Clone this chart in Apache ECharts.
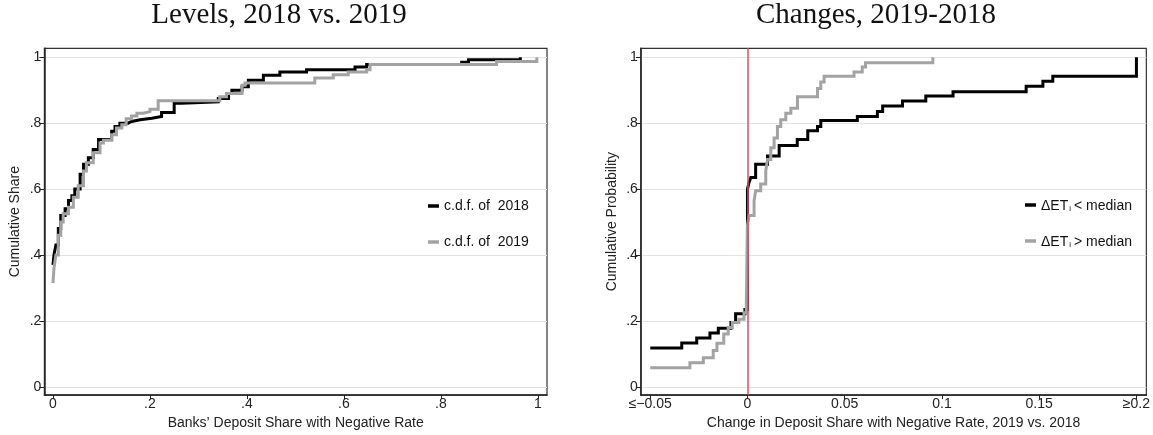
<!DOCTYPE html>
<html>
<head>
<meta charset="utf-8">
<script src="https://cdn.jsdelivr.net/npm/echarts@6/dist/echarts.min.js"></script>
<style>
  html, body { margin: 0; padding: 0; background: #fff; }
  #chart { width: 1153px; height: 435px; }
</style>
</head>
<body>
<div id="chart"></div>
<script>
// left panel: c.d.f. of deposit share with negative rate
var x2018 = [0, 0.002, 0.006, 0.011, 0.016, 0.025, 0.032, 0.039, 0.045, 0.056, 0.063, 0.073, 0.083, 0.094, 0.121, 0.128, 0.138, 0.155, 0.162, 0.18, 0.204, 0.224, 0.25, 0.265, 0.341, 0.362, 0.369, 0.39, 0.403, 0.434, 0.468, 0.523, 0.623, 0.647, 0.843, 0.857, 0.964]
var cdf2018 = [0.37, 0.40, 0.43, 0.48, 0.52, 0.54, 0.565, 0.58, 0.60, 0.645, 0.675, 0.695, 0.72, 0.75, 0.775, 0.79, 0.80, 0.805, 0.81, 0.815, 0.82, 0.832, 0.86, 0.865, 0.875, 0.89, 0.90, 0.91, 0.93, 0.945, 0.955, 0.962, 0.97, 0.978, 0.985, 0.992, 1.0]
var x2019 = [0, 0.002, 0.006, 0.011, 0.016, 0.021, 0.032, 0.042, 0.052, 0.063, 0.069, 0.083, 0.097, 0.104, 0.121, 0.131, 0.142, 0.151, 0.162, 0.173, 0.186, 0.2, 0.217, 0.344, 0.358, 0.39, 0.396, 0.54, 0.578, 0.609, 0.647, 0.654, 0.915, 0.998]
var cdf2019 = [0.315, 0.36, 0.40, 0.46, 0.50, 0.525, 0.545, 0.575, 0.61, 0.655, 0.68, 0.71, 0.74, 0.748, 0.765, 0.785, 0.795, 0.813, 0.822, 0.83, 0.835, 0.842, 0.868, 0.88, 0.89, 0.915, 0.922, 0.937, 0.947, 0.955, 0.962, 0.978, 0.987, 1.0]

// right panel: change 2019 vs 2018, split by median
var xBelow = [-0.05, -0.0338, -0.0261, -0.0193, -0.015, -0.0085, -0.0061, -0.0013, 0, 0.0008, 0.0017, 0.0042, 0.0103, 0.0163, 0.0256, 0.031, 0.036, 0.0377, 0.0565, 0.0668, 0.0695, 0.0797, 0.0917, 0.1057, 0.1433, 0.1519, 0.157, 0.2]
var cdfBelow = [0.118, 0.133, 0.148, 0.163, 0.178, 0.195, 0.222, 0.235, 0.60, 0.62, 0.635, 0.675, 0.70, 0.732, 0.75, 0.777, 0.79, 0.808, 0.82, 0.835, 0.852, 0.867, 0.882, 0.895, 0.912, 0.927, 0.942, 1.0]
var xAbove = [-0.05, -0.0296, -0.0227, -0.0176, -0.0157, -0.0122, -0.0099, -0.0078, -0.0044, -0.0018, -0.0006, 0, 0.0008, 0.0034, 0.0042, 0.0068, 0.0094, 0.0103, 0.012, 0.0137, 0.0154, 0.0171, 0.0197, 0.0223, 0.0257, 0.036, 0.0377, 0.0394, 0.0548, 0.059, 0.0607, 0.0953]
var cdfAbove = [0.058, 0.073, 0.088, 0.11, 0.132, 0.16, 0.18, 0.195, 0.205, 0.225, 0.25, 0.49, 0.52, 0.565, 0.595, 0.615, 0.655, 0.69, 0.725, 0.755, 0.79, 0.81, 0.83, 0.845, 0.88, 0.905, 0.925, 0.942, 0.955, 0.97, 0.983, 1.0]

var yTicks = [0, 0.2, 0.4, 0.6, 0.8, 1]
var yTickLabels = ['0', '.2', '.4', '.6', '.8', '1']
var xTicksLeft = [0, 0.2, 0.4, 0.6, 0.8, 1]
var xTickLabelsLeft = ['0', '.2', '.4', '.6', '.8', '1']
var xTicksRight = [-0.05, 0, 0.05, 0.1, 0.15, 0.2]
var xTickLabelsRight = ['≤−0.05', '0', '0.05', '0.1', '0.15', '≥0.2']

var sans = 'Liberation Sans, Arial, sans-serif'
var fs = 14
var black = '#000000'
var gray = '#a3a3a3'

function zip(xs, ys){
  return xs.map(function(x, i){ return [x, ys[i]] })
}
function labelFrom(ticks, labels){
  return function(v){
    for (var i = 0; i < ticks.length; i++) {
      if (Math.abs(ticks[i] - v) < 1e-6) return labels[i]
    }
    return ''
  }
}

function xAxisOpt(idx, min, max, ticks, labels, name){
  return {
    type: 'value', gridIndex: idx, min: min, max: max,
    name: name, nameLocation: 'middle', nameGap: 16,
    nameTextStyle: { fontFamily: sans, fontSize: fs, color: '#222' },
    axisLine: { show: true, onZero: false, lineStyle: { color: '#222', width: 1.5 } },
    axisTick: { show: true, length: 4, customValues: ticks, lineStyle: { color: '#222', width: 1 } },
    axisLabel: { customValues: ticks, formatter: labelFrom(ticks, labels), margin: 2, fontFamily: sans, fontSize: fs, color: '#222' },
    splitLine: { show: false }
  }
}
function yAxisOpt(idx, name){
  return {
    type: 'value', gridIndex: idx, min: -0.025, max: 1.027,
    name: name, nameLocation: 'middle', nameGap: 22, nameRotate: 90,
    nameTextStyle: { fontFamily: sans, fontSize: fs, color: '#222' },
    axisLine: { show: true, onZero: false, lineStyle: { color: '#222', width: 1.5 } },
    axisTick: { show: true, length: 5, customValues: yTicks, lineStyle: { color: '#222', width: 1 } },
    axisLabel: { customValues: yTicks, formatter: labelFrom(yTicks, yTickLabels), margin: 3, fontFamily: sans, fontSize: fs, color: '#222' },
    splitLine: { show: true, lineStyle: { color: '#e3e3e3', width: 1 } }
  }
}
function stepSeries(name, idx, xs, ys, color){
  return {
    name: name, type: 'line', step: 'end',
    xAxisIndex: idx, yAxisIndex: idx,
    data: zip(xs, ys),
    showSymbol: false, clip: false, z: 3,
    lineStyle: { color: color, width: 3, join: 'miter' },
    itemStyle: { color: color }
  }
}

var legendText = { fontFamily: sans, fontSize: fs, color: '#111' }
var titleText = { fontFamily: 'Liberation Serif, serif', fontSize: 29, fontWeight: 'normal', color: '#111' }

var myChart = echarts.init(document.getElementById('chart'), null, { renderer: 'canvas' })
myChart.setOption({
  animation: false,
  backgroundColor: '#fff',
  title: [
    { text: 'Levels, 2018 vs. 2019', left: 279, top: 1, textAlign: 'center', padding: 0, textStyle: titleText },
    { text: 'Changes, 2019-2018', left: 876, top: 1, textAlign: 'center', padding: 0, textStyle: titleText }
  ],
  grid: [
    { left: 44.4, right: 606, top: 48.3, bottom: 36.7, show: true, borderColor: '#333', borderWidth: 1.2, backgroundColor: '#fff' },
    { left: 640.9, right: 5.8, top: 48.3, bottom: 36.7, show: true, borderColor: '#333', borderWidth: 1.2, backgroundColor: '#fff' }
  ],
  xAxis: [
    xAxisOpt(0, -0.0177, 1.019, xTicksLeft, xTickLabelsLeft, 'Banks\u2019 Deposit Share with Negative Rate'),
    xAxisOpt(1, -0.0548, 0.2051, xTicksRight, xTickLabelsRight, 'Change in Deposit Share with Negative Rate, 2019 vs. 2018')
  ],
  yAxis: [
    yAxisOpt(0, 'Cumulative Share'),
    yAxisOpt(1, 'Cumulative Probability')
  ],
  legend: [
    { data: ['c.d.f. of  2018', 'c.d.f. of  2019'], left: 428, top: 199, orient: 'vertical',
      icon: 'rect', itemWidth: 11, itemHeight: 3.5, itemGap: 22, textStyle: legendText, padding: 0 },
    { data: ['below', 'above'], left: 1025, top: 199, orient: 'vertical',
      icon: 'rect', itemWidth: 11, itemHeight: 3.5, itemGap: 22, padding: 0,
      formatter: function(n){
        return n === 'below' ? '{n|ΔET}{s|i}{n|< median}' : '{n|ΔET}{s|i}{n|> median}'
      },
      textStyle: {
        fontFamily: sans, fontSize: fs, color: '#111',
        rich: {
          n: { fontFamily: sans, fontSize: fs, color: '#111', lineHeight: 16, verticalAlign: 'bottom' },
          s: { fontFamily: sans, fontSize: 8, color: '#111', lineHeight: 16, verticalAlign: 'bottom', padding: [0, 3, 0, 1] }
        }
      } }
  ],
  series: [
    stepSeries('c.d.f. of  2018', 0, x2018, cdf2018, black),
    stepSeries('c.d.f. of  2019', 0, x2019, cdf2019, gray),
    {
      name: 'zero', type: 'line', xAxisIndex: 1, yAxisIndex: 1, data: [], z: 1,
      markLine: { silent: true, symbol: 'none', label: { show: false },
        lineStyle: { color: '#d4506e', width: 1.5, type: 'solid' },
        data: [{ xAxis: 0 }] }
    },
    stepSeries('below', 1, xBelow, cdfBelow, black),
    stepSeries('above', 1, xAbove, cdfAbove, gray)
  ]
})
</script>
</body>
</html>
